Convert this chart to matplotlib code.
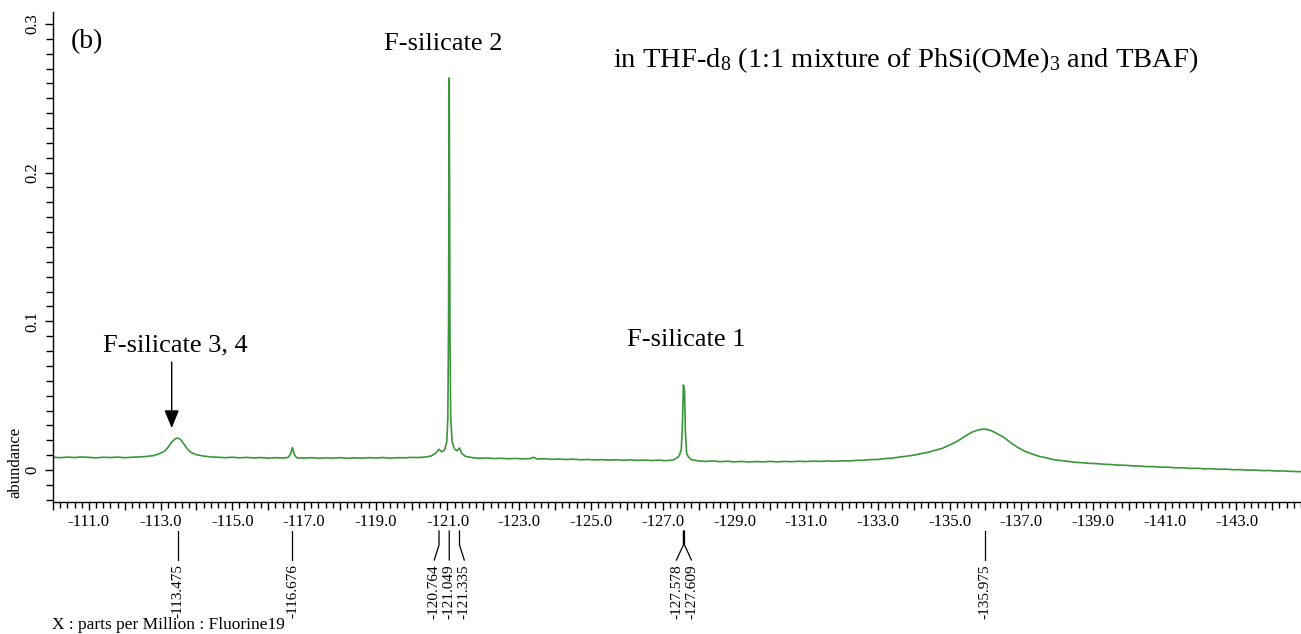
import matplotlib
matplotlib.use('Agg')
import matplotlib.pyplot as plt
from matplotlib.ticker import MultipleLocator, FuncFormatter
from matplotlib.transforms import blended_transform_factory

plt.rcParams['font.family'] = ['Liberation Serif', 'DejaVu Serif']
plt.rcParams['mathtext.fontset'] = 'custom'
plt.rcParams['mathtext.rm'] = 'Liberation Serif'
plt.rcParams['mathtext.it'] = 'Liberation Serif:italic'

# 19F NMR trace (chemical shift in ppm, abundance)
shift_ppm = [
    -110.0, -110.2, -110.4, -110.6, -110.8, -111.0, -111.2, -111.4, -111.6, -111.8,
    -112.0, -112.2, -112.4, -112.6, -112.8, -112.95, -113.1, -113.2, -113.3, -113.4,
    -113.475, -113.55, -113.65, -113.75, -113.85, -114.0, -114.2, -114.4, -114.6, -114.8,
    -115.0, -115.2, -115.4, -115.6, -115.8, -116.0, -116.2, -116.4, -116.55, -116.62,
    -116.676, -116.73, -116.8, -117.0, -117.2, -117.4, -117.6, -117.8, -118.0, -118.2,
    -118.4, -118.6, -118.8, -119.0, -119.2, -119.4, -119.6, -119.8, -120.0, -120.2,
    -120.4, -120.55, -120.68, -120.764, -120.84, -120.92, -120.98, -121.01, -121.03, -121.04,
    -121.049, -121.06, -121.07, -121.09, -121.13, -121.2, -121.27, -121.335, -121.4, -121.5,
    -121.7, -121.9, -122.1, -122.3, -122.5, -122.7, -122.9, -123.1, -123.3, -123.4,
    -123.5, -123.7, -123.9, -124.1, -124.3, -124.5, -124.7, -124.9, -125.1, -125.3,
    -125.5, -125.7, -125.9, -126.1, -126.3, -126.5, -126.7, -126.9, -127.1, -127.3,
    -127.42, -127.47, -127.52, -127.55, -127.578, -127.609, -127.635, -127.67, -127.72, -127.8,
    -128.0, -128.2, -128.4, -128.6, -128.8, -129.0, -129.2, -129.4, -129.6, -129.8,
    -130.0, -130.2, -130.4, -130.6, -130.8, -131.0, -131.2, -131.4, -131.6, -131.8,
    -132.0, -132.2, -132.4, -132.6, -132.8, -133.0, -133.2, -133.4, -133.6, -133.8,
    -134.0, -134.2, -134.4, -134.6, -134.8, -135.0, -135.2, -135.4, -135.6, -135.8,
    -135.975, -136.15, -136.3, -136.5, -136.7, -136.9, -137.1, -137.3, -137.5, -137.7,
    -137.9, -138.1, -138.3, -138.5, -138.7, -138.9, -139.1, -139.3, -139.5, -139.7,
    -139.9, -140.1, -140.3, -140.5, -140.7, -140.9, -141.1, -141.3, -141.5, -141.7,
    -141.9, -142.1, -142.3, -142.5, -142.7, -142.9, -143.1, -143.3, -143.5, -143.7,
    -143.9, -144.1, -144.3, -144.5, -144.8,
]
abundance = [
    0.0086, 0.0083, 0.0087, 0.0084, 0.0088, 0.0085, 0.0082, 0.0086, 0.0084, 0.0087,
    0.0083, 0.0086, 0.0088, 0.0091, 0.0097, 0.0108, 0.0125, 0.0150, 0.0185, 0.0208,
    0.0215, 0.0207, 0.0175, 0.0140, 0.0118, 0.0103, 0.0094, 0.0088, 0.0086, 0.0083,
    0.0086, 0.0082, 0.0085, 0.0081, 0.0084, 0.0080, 0.0083, 0.0081, 0.0084, 0.0105,
    0.0152, 0.0103, 0.0082, 0.0080, 0.0083, 0.0079, 0.0082, 0.0080, 0.0083, 0.0079,
    0.0082, 0.0080, 0.0083, 0.0081, 0.0084, 0.0080, 0.0083, 0.0082, 0.0085, 0.0084,
    0.0088, 0.0095, 0.0115, 0.0140, 0.0122, 0.0135, 0.0190, 0.0350, 0.1000, 0.1900,
    0.2636, 0.1800, 0.0900, 0.0350, 0.0190, 0.0140, 0.0130, 0.0148, 0.0112, 0.0092,
    0.0083, 0.0079, 0.0081, 0.0077, 0.0079, 0.0076, 0.0078, 0.0075, 0.0077, 0.0086,
    0.0074, 0.0076, 0.0072, 0.0074, 0.0071, 0.0073, 0.0069, 0.0071, 0.0068, 0.0070,
    0.0067, 0.0069, 0.0066, 0.0068, 0.0065, 0.0067, 0.0064, 0.0066, 0.0063, 0.0068,
    0.0085, 0.0100, 0.0140, 0.0300, 0.0572, 0.0540, 0.0250, 0.0110, 0.0088, 0.0070,
    0.0061, 0.0058, 0.0061, 0.0056, 0.0059, 0.0055, 0.0058, 0.0054, 0.0057, 0.0055,
    0.0058, 0.0055, 0.0058, 0.0056, 0.0059, 0.0057, 0.0060, 0.0058, 0.0061, 0.0059,
    0.0062, 0.0061, 0.0065, 0.0066, 0.0070, 0.0071, 0.0077, 0.0080, 0.0087, 0.0093,
    0.0100, 0.0110, 0.0119, 0.0133, 0.0146, 0.0168, 0.0192, 0.0222, 0.0252, 0.0270,
    0.0276, 0.0266, 0.0248, 0.0222, 0.0185, 0.0152, 0.0126, 0.0108, 0.0092, 0.0082,
    0.0070, 0.0064, 0.0058, 0.0052, 0.0049, 0.0045, 0.0043, 0.0039, 0.0037, 0.0033,
    0.0032, 0.0028, 0.0027, 0.0023, 0.0023, 0.0019, 0.0019, 0.0015, 0.0015, 0.0011,
    0.0012, 0.0008, 0.0009, 0.0005, 0.0006, 0.0002, 0.0003, -0.0001, 0.0000, -0.0004,
    -0.0003, -0.0007, -0.0006, -0.0009, -0.0011,
]

# picked peak positions shown under the axis
peak_ppm = [-113.475, -116.676, -120.764, -121.049, -121.335, -127.578, -127.609, -135.975]
peak_groups = [[0], [1], [2, 3, 4], [5, 6], [7]]

fig = plt.figure(figsize=(13.01, 6.34), dpi=100)
W, H = 1301, 634
ax = fig.add_axes([53 / W, 1 - 502 / H, 1248 / W, 490 / H])

ax.plot(shift_ppm, abundance, color='#3a963a', linewidth=1.2)

ax.set_xlim(-110.0, -144.8)
ax.set_ylim(-0.0215, 0.308)

for side in ['top', 'right']:
    ax.spines[side].set_visible(False)
for side in ['left', 'bottom']:
    ax.spines[side].set_linewidth(1.0)

ax.xaxis.set_major_locator(MultipleLocator(1.0))
ax.xaxis.set_minor_locator(MultipleLocator(0.2))
ax.xaxis.set_major_formatter(FuncFormatter(
    lambda v, p: f'{v:.1f}' if int(round(abs(v))) % 2 == 1 else ''))
ax.yaxis.set_major_locator(MultipleLocator(0.1))
ax.yaxis.set_minor_locator(MultipleLocator(0.01))
ax.yaxis.set_major_formatter(FuncFormatter(
    lambda v, p: '0' if abs(v) < 1e-9 else f'{v:.1f}'))

ax.tick_params(axis='x', which='major', length=6, width=1, labelsize=12, pad=3)
ax.tick_params(axis='x', which='minor', length=4, width=1)
ax.tick_params(axis='y', which='major', length=6, width=1, labelsize=12, pad=3)
ax.tick_params(axis='y', which='minor', length=5, width=1)
for lab in ax.get_yticklabels():
    lab.set_rotation(90)
    lab.set_va('center')

fig.text(15 / W, 1 - 462 / H, 'abundance', rotation=90, ha='center', va='center',
         fontsize=12)
fig.text(52 / W, 1 - 625 / H, 'X : parts per Million : Fluorine19', ha='left',
         va='center', fontsize=12.5)

# peak annotations
ax.text(-110.96, 0.288, '(b)', fontsize=20, ha='center', va='center')
ax.text(-120.89, 0.2865, 'F-silicate 2', fontsize=19, ha='center', va='center')
ax.text(-127.67, 0.0874, 'F-silicate 1', fontsize=19, ha='center', va='center')
ax.text(-113.42, 0.084, 'F-silicate 3, 4', fontsize=19, ha='center', va='center')
ax.annotate('', xy=(-113.31, 0.0282), xytext=(-113.31, 0.0726),
            arrowprops=dict(arrowstyle='-|>,head_length=1.1,head_width=0.45',
                            color='black', lw=1.0, shrinkA=0, shrinkB=0))
ax.text(-133.77, 0.2757, 'in THF-d$_8$ (1:1 mixture of PhSi(OMe)$_3$ and TBAF)',
        fontsize=20.5, ha='center', va='center')

# peak pick markers below the axis
trans = blended_transform_factory(ax.transData, fig.transFigure)
px_per_ppm = 1248 / 34.8
spacing = 15 / px_per_ppm
y_top, y_bend, y_end, y_text = 1 - 531 / H, 1 - 545 / H, 1 - 560 / H, 1 - 564 / H
for group in peak_groups:
    centre = sum(peak_ppm[i] for i in group) / len(group)
    n = len(group)
    for k, i in enumerate(group):
        label_x = centre + (k - (n - 1) / 2) * (-spacing)
        xs = [peak_ppm[i], peak_ppm[i], label_x]
        ys = [y_top, y_bend, y_end]
        ax.plot(xs, ys, color='black', lw=0.9, transform=trans, clip_on=False)
        ax.text(label_x, y_text, f'{peak_ppm[i]:.3f}', rotation=90, ha='center',
                va='top', fontsize=11, transform=trans)

fig.savefig('out.png', dpi=100, facecolor='white')
